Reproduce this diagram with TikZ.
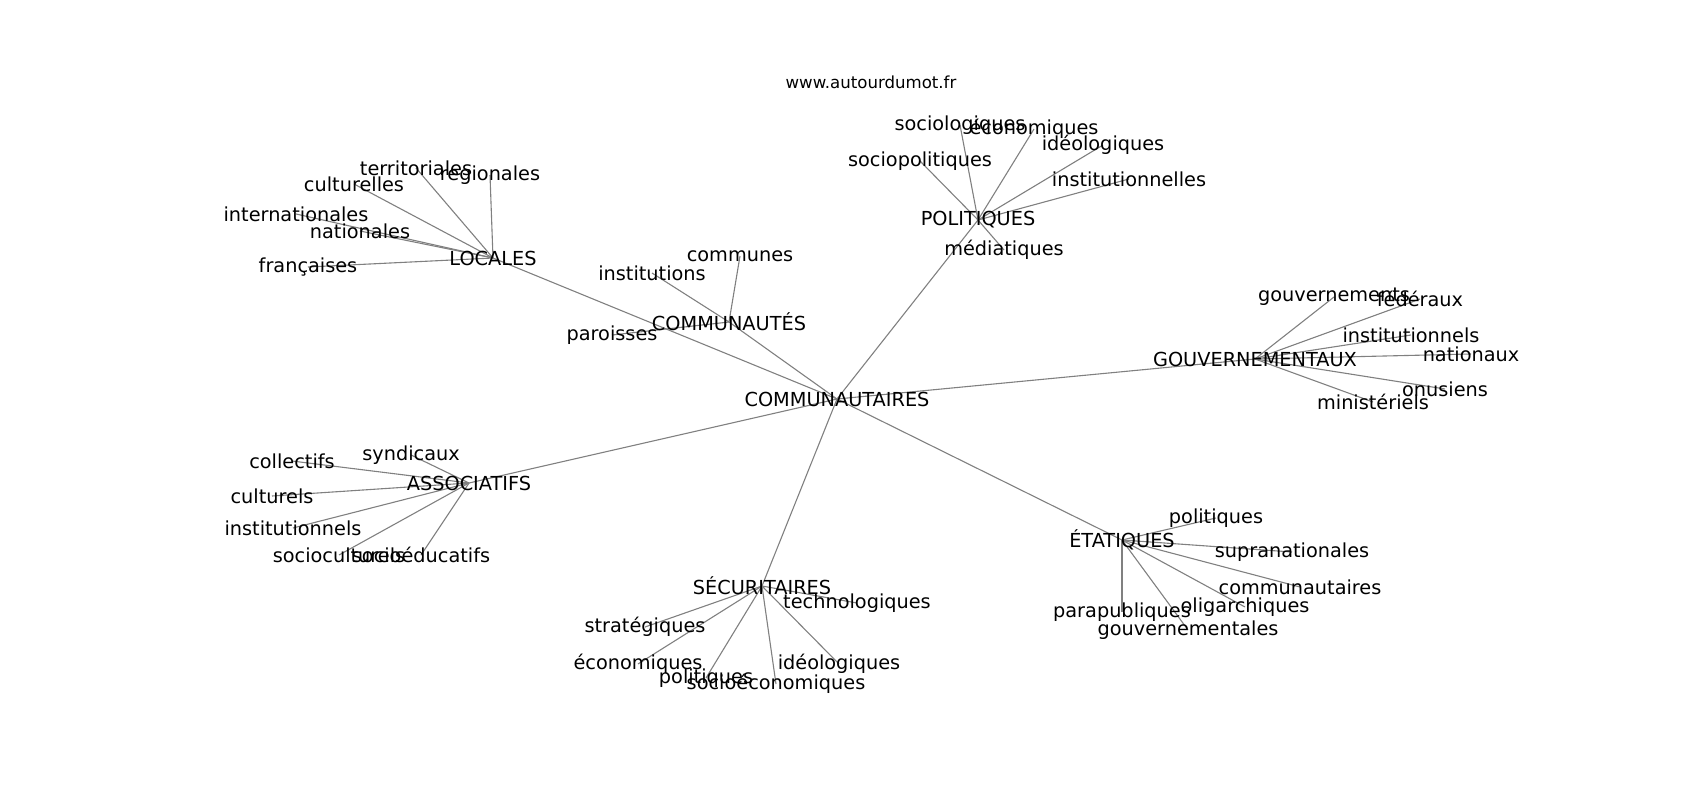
\documentclass[tikz,border=0pt]{standalone}
\usepackage{fontspec}
\setmainfont{DejaVu Sans}
\usetikzlibrary{backgrounds}
\tikzset{
  lbl/.style={inner sep=0pt, font=\fontsize{19.3}{21}\selectfont, text=black},
  ttl/.style={inner sep=0pt, font=\fontsize{16.6}{18}\selectfont, text=black},
  edge/.style={draw=black!50, line width=1.1pt}
}
\begin{document}
\begin{tikzpicture}[x=1pt,y=-1pt]
\useasboundingbox (0,0) rectangle (1700,800);
\node[ttl] (title) at (871,82) {www.autourdumot.fr};
% hub
\node[lbl] (c) at (837,399) {COMMUNAUTAIRES};
% LOCALES
\node[lbl] (loc) at (493,258) {LOCALES};
\node[lbl] (loc1) at (416,168) {territoriales};
\node[lbl] (loc2) at (490,175) {regionales};
\node[lbl] (loc3) at (354,184) {culturelles};
\node[lbl] (loc4) at (296,214) {internationales};
\node[lbl] (loc5) at (360,231) {nationales};
\node[lbl] (loc6) at (308,267) {françaises};
% COMMUNAUTES
\node[lbl] (com) at (729,322) {COMMUNAUTÉS};
\node[lbl] (com1) at (740,256) {communes};
\node[lbl] (com2) at (652,273) {institutions};
\node[lbl] (com3) at (612,335) {paroisses};
% POLITIQUES
\node[lbl] (pol) at (978,220) {POLITIQUES};
\node[lbl] (pol1) at (960,125) {sociologiques};
\node[lbl] (pol2) at (1034,129) {économiques};
\node[lbl] (pol3) at (1103,145) {idéologiques};
\node[lbl] (pol4) at (920,161) {sociopolitiques};
\node[lbl] (pol5) at (1129,179) {institutionnelles};
\node[lbl] (pol6) at (1004,250) {médiatiques};
% GOUVERNEMENTAUX
\node[lbl] (gov) at (1255,359) {GOUVERNEMENTAUX};
\node[lbl] (gov1) at (1334,297) {gouvernements};
\node[lbl] (gov2) at (1420,299) {fédéraux};
\node[lbl] (gov3) at (1411,335) {institutionnels};
\node[lbl] (gov4) at (1471,354) {nationaux};
\node[lbl] (gov5) at (1445,389) {onusiens};
\node[lbl] (gov6) at (1373,402) {ministériels};
% ASSOCIATIFS
\node[lbl] (ass) at (469,483) {ASSOCIATIFS};
\node[lbl] (ass1) at (411,455) {syndicaux};
\node[lbl] (ass2) at (292,461) {collectifs};
\node[lbl] (ass3) at (272,496) {culturels};
\node[lbl] (ass4) at (293,528) {institutionnels};
\node[lbl] (ass5) at (339,555) {socioculturels};
\node[lbl] (ass6) at (421,555) {socioéducatifs};
% SECURITAIRES
\node[lbl] (sec) at (762,586) {SÉCURITAIRES};
\node[lbl] (sec1) at (857,603) {technologiques};
\node[lbl] (sec2) at (645,627) {stratégiques};
\node[lbl] (sec3) at (638,664) {économiques};
\node[lbl] (sec4) at (706,678) {politiques};
\node[lbl] (sec5) at (776,684) {socioéconomiques};
\node[lbl] (sec6) at (839,664) {idéologiques};
% ETATIQUES
\node[lbl] (eta) at (1122,540) {ÉTATIQUES};
\node[lbl] (eta1) at (1216,518) {politiques};
\node[lbl] (eta2) at (1292,552) {supranationales};
\node[lbl] (eta3) at (1300,587) {communautaires};
\node[lbl] (eta4) at (1245,607) {oligarchiques};
\node[lbl] (eta5) at (1122,612) {parapubliques};
\node[lbl] (eta6) at (1188,630) {gouvernementales};
\begin{scope}[on background layer]
\foreach \h in {loc,com,pol,gov,ass,sec,eta}
  \draw[edge] (c.center) -- (\h.center);
\foreach \i in {1,...,6}
  \draw[edge] (loc.center) -- (loc\i.center);
\foreach \i in {1,2,3}
  \draw[edge] (com.center) -- (com\i.center);
\foreach \h in {pol,gov,ass,sec,eta}
  \foreach \i in {1,...,6}
    \draw[edge] (\h.center) -- (\h\i.center);
\end{scope}
\end{tikzpicture}
\end{document}
